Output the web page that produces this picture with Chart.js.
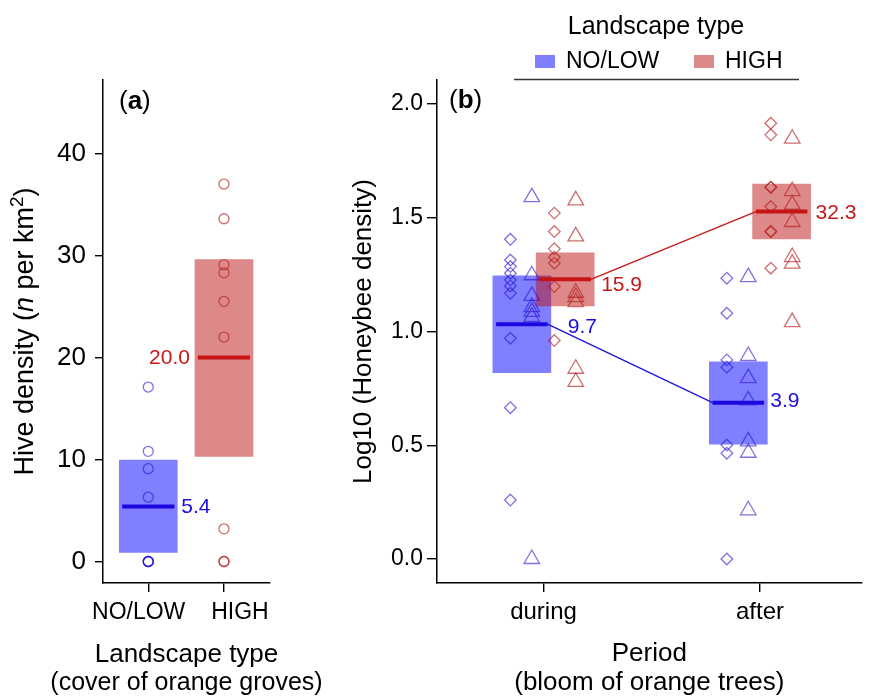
<!DOCTYPE html>
<html><head><meta charset="utf-8">
<script src="https://cdn.jsdelivr.net/npm/chart.js@4.4.1/dist/chart.umd.min.js"></script>
<style>
html,body{margin:0;padding:0;background:#fff;}
#wrap{position:relative;width:872px;height:697px;background:#fff;}
canvas{position:absolute;left:0;top:0;}
</style></head><body>
<div id="wrap"><canvas id="ca" width="872" height="697"></canvas><canvas id="cb" width="872" height="697"></canvas></div>
<script>
// ================= DATA =================
const landscapes = ['NO/LOW', 'HIGH'];
const periods = ['during', 'after'];

// panel (a): hive density (n per km2)
const hiveLow  = [17.1, 10.8, 9.1, 6.3, 0, 0, 0, 0];
const hiveHigh = [37.0, 33.6, 29.1, 28.3, 25.5, 22.0, 3.2, 0, 0];
const hiveMean  = [5.4, 20.0];
const hiveLower = [0.9, 10.3];
const hiveUpper = [9.95, 29.6];
const hiveTicks = [0, 10, 20, 30, 40];

// panel (b): log10 honeybee density, per period (during, after)
const beeLowDiamondDuring  = [1.405, 1.314, 1.285, 1.256, 1.226, 1.200, 1.168, 0.970, 0.665, 0.259];
const beeLowTriangleDuring = [1.590, 1.247, 1.156, 1.107, 1.086, 1.064, 0.0];
const beeHighDiamondDuring = [1.520, 1.439, 1.363, 1.326, 1.300, 1.197, 0.960];
const beeHighTriangleDuring= [1.576, 1.418, 1.170, 1.151, 1.129, 0.836, 0.778];
const beeLowDiamondAfter   = [1.234, 1.080, 0.875, 0.843, 0.501, 0.465, 0.0];
const beeLowTriangleAfter  = [1.239, 0.892, 0.795, 0.697, 0.517, 0.467, 0.214];
const beeHighDiamondAfter  = [1.915, 1.864, 1.634, 1.634, 1.549, 1.439, 1.439, 1.278];
const beeHighTriangleAfter = [1.847, 1.617, 1.557, 1.481, 1.327, 1.298, 1.041];
const beeMeanLow   = [1.032, 0.687];
const beeMeanHigh  = [1.229, 1.527];
const beeLowerLow  = [0.819, 0.505];
const beeUpperLow  = [1.244, 0.867];
const beeLowerHigh = [1.112, 1.407];
const beeUpperHigh = [1.346, 1.648];
const beeMeanLabelLow  = ['9.7', '3.9'];
const beeMeanLabelHigh = ['15.9', '32.3'];
const beeTicks = [0, 0.5, 1.0, 1.5, 2.0];

// ================= STYLE / LAYOUT =================
const FONT = "'Liberation Sans', Arial, Helvetica, sans-serif";
Chart.defaults.font.family = FONT;
Chart.defaults.color = '#000';
const C = {
  blueBox: 'rgba(0,0,255,0.5)', redBox: 'rgba(190,20,20,0.5)',
  bluePt: 'rgba(40,20,210,0.6)', redPt: 'rgba(180,30,30,0.65)',
  blueMean: '#1a08e0', redMean: '#c81414',
  blueLine: 'rgb(30,20,215)', redLine: 'rgb(200,25,25)',
  blueText: '#1a10dd', redText: '#c41a1a'
};
const A = { meanHalf: 0.345 };
const B = { lowBox: -0.1, highBox: 0.1, lowDia: -0.153, lowTri: -0.054, highDia: 0.05, highTri: 0.149, meanHalf: 0.119 };
// tick-label padding (spaces) reproducing the shifted labels of panel (a)
const tickPadA = [s => s + '   ', s => '     ' + s];

function axisCommon(tickLen) {
  return {
    grid: { display: true, offset: false, drawOnChartArea: false, drawTicks: true, tickLength: tickLen, color: '#000', lineWidth: 1.4 },
    border: { display: true, color: '#000', width: 1.5 }
  };
}

// ---------- plugins ----------
const panelLetter = (letter, x, y) => ({
  id: 'letter' + letter,
  afterDraw(chart) {
    const ctx = chart.ctx; ctx.save();
    ctx.textBaseline = 'middle'; ctx.textAlign = 'left'; ctx.fillStyle = '#000';
    let px = x;
    [['(', ''], [letter, 'bold '], [')', '']].forEach(([t, w]) => {
      ctx.font = `${w}26px ${FONT}`; ctx.fillText(t, px, y); px += ctx.measureText(t).width;
    });
    ctx.restore();
  }
});

const titlesA = {
  id: 'titlesA',
  afterDraw(chart) {
    const ctx = chart.ctx, area = chart.chartArea;
    ctx.save(); ctx.fillStyle = '#000'; ctx.textAlign = 'center'; ctx.textBaseline = 'middle';
    const cx = (area.left + area.right) / 2;
    ctx.font = `26px ${FONT}`; ctx.fillText('Landscape type', cx, 655);
    ctx.font = `25px ${FONT}`; ctx.fillText('(cover of orange groves)', cx, 683.5);
    ctx.restore();
    const cy = (area.top + area.bottom) / 2, size = 27;
    const segs = [
      { t: 'Hive density (', f: `${size}px ${FONT}` },
      { t: 'n', f: `italic ${size}px ${FONT}` },
      { t: ' per km', f: `${size}px ${FONT}` },
      { t: '2', f: `${Math.round(size * 0.7)}px ${FONT}`, sup: true },
      { t: ')', f: `${size}px ${FONT}` }
    ];
    ctx.save(); ctx.translate(23.5, cy); ctx.rotate(-Math.PI / 2);
    let total = 0;
    segs.forEach(s => { ctx.font = s.f; s.w = ctx.measureText(s.t).width; total += s.w; });
    let x = -total / 2; ctx.textBaseline = 'alphabetic'; ctx.fillStyle = '#000'; ctx.textAlign = 'left';
    const base = size * 0.35;
    segs.forEach(s => { ctx.font = s.f; ctx.fillText(s.t, x, base - (s.sup ? size * 0.36 : 0)); x += s.w; });
    ctx.restore();
  }
};

const labelsA = {
  id: 'labelsA',
  afterDatasetsDraw(chart) {
    const ctx = chart.ctx, xs = chart.scales.x, ys = chart.scales.y;
    ctx.save(); ctx.font = `21px ${FONT}`; ctx.textBaseline = 'middle';
    const half = 29;
    ctx.fillStyle = C.blueText; ctx.textAlign = 'left';
    ctx.fillText(hiveMean[0].toFixed(1), xs.getPixelForValue(1) + half + 4, ys.getPixelForValue(hiveMean[0]) + 1);
    ctx.fillStyle = C.redText; ctx.textAlign = 'right';
    ctx.fillText(hiveMean[1].toFixed(1), xs.getPixelForValue(2) - half - 5, ys.getPixelForValue(hiveMean[1]) + 1);
    ctx.restore();
  }
};

const labelsB = {
  id: 'labelsB',
  afterDatasetsDraw(chart) {
    const ctx = chart.ctx, xs = chart.scales.x, ys = chart.scales.y;
    ctx.save(); ctx.font = `21px ${FONT}`; ctx.textBaseline = 'middle'; ctx.textAlign = 'left';
    const half = 29;
    const lowDx = [17, 3], lowDy = [3, -1], highDx = [7, 5], highDy = [6, 2];
    periods.forEach((p, i) => {
      ctx.fillStyle = C.blueText;
      ctx.fillText(beeMeanLabelLow[i], xs.getPixelForValue(i + 1 + B.lowBox) + half + lowDx[i], ys.getPixelForValue(beeMeanLow[i]) + lowDy[i]);
      ctx.fillStyle = C.redText;
      ctx.fillText(beeMeanLabelHigh[i], xs.getPixelForValue(i + 1 + B.highBox) + half + highDx[i], ys.getPixelForValue(beeMeanHigh[i]) + highDy[i]);
    });
    ctx.restore();
  }
};

const legendB = {
  id: 'legendB',
  afterDraw(chart) {
    const ctx = chart.ctx; ctx.save();
    ctx.fillStyle = '#000'; ctx.textBaseline = 'middle';
    ctx.font = `25px ${FONT}`; ctx.textAlign = 'center';
    ctx.fillText('Landscape type', 656, 27);
    ctx.font = `23px ${FONT}`; ctx.textAlign = 'left';
    const items = [[landscapes[0], C.blueBox, 535], [landscapes[1], C.redBox, 694]];
    items.forEach(([t, col, x]) => {
      ctx.fillStyle = col; ctx.fillRect(x, 55, 20, 13);
      ctx.fillStyle = '#000'; ctx.fillText(t, x + 31, 62);
    });
    ctx.strokeStyle = '#333'; ctx.lineWidth = 1.3;
    ctx.beginPath(); ctx.moveTo(514, 79.5); ctx.lineTo(799, 79.5); ctx.stroke();
    ctx.restore();
  }
};

// ================= PANEL (a) =================
const ptStyle = (color, style, r) => ({
  type: 'scatter', showLine: false, pointStyle: style, pointRadius: r, pointBorderWidth: 1.3,
  pointBorderColor: color, pointBackgroundColor: 'rgba(0,0,0,0)', borderColor: color, backgroundColor: 'rgba(0,0,0,0)', order: 0
});
const meanLine = (x0, x1, y, color, w, order) => ({
  type: 'line', data: [{ x: x0, y: y }, { x: x1, y: y }], borderColor: color, borderWidth: w,
  pointRadius: 0, borderCapStyle: 'butt', fill: false, order: order
});

new Chart(document.getElementById('ca'), {
  type: 'scatter',
  data: {
    datasets: [
      { type: 'bar', label: 'box', grouped: false, barThickness: 58, borderWidth: 0, order: 4,
        data: landscapes.map((l, i) => ({ x: i + 1, y: [hiveLower[i], hiveUpper[i]] })),
        backgroundColor: [C.blueBox, C.redBox] },
      meanLine(1 - A.meanHalf, 1 + A.meanHalf, hiveMean[0], C.blueMean, 4, 1),
      meanLine(2 - A.meanHalf, 2 + A.meanHalf, hiveMean[1], C.redMean, 4, 1),
      Object.assign(ptStyle(C.bluePt, 'circle', 5), { data: hiveLow.map(v => ({ x: 1, y: v })) }),
      Object.assign(ptStyle(C.redPt, 'circle', 5), { data: hiveHigh.map(v => ({ x: 2, y: v })) })
    ]
  },
  options: {
    responsive: false, animation: false, devicePixelRatio: 1, events: [],
    layout: { padding: { top: 80, right: 872 - 270, left: 0, bottom: 0 } },
    plugins: { legend: { display: false }, tooltip: { enabled: false } },
    scales: {
      x: Object.assign(axisCommon(9), {
        type: 'linear', min: 0.402, max: 2.608, offset: false,
        afterBuildTicks: s => { s.ticks = landscapes.map((l, i) => ({ value: i + 1 })); },
        afterFit: s => { s.height = 114; },
        ticks: { font: { size: 23 }, padding: 7, maxRotation: 0, autoSkip: false,
                 callback: v => { const i = Math.round(v) - 1; return tickPadA[i](landscapes[i]); } }
      }),
      y: Object.assign(axisCommon(8), {
        type: 'linear', min: -2.11, max: 47.2,
        afterBuildTicks: s => { s.ticks = hiveTicks.map(v => ({ value: v })); },
        afterFit: s => { s.width = 103; },
        ticks: { font: { size: 26 }, padding: 9, callback: v => String(v) }
      })
    }
  },
  plugins: [labelsA, titlesA, panelLetter('a', 119, 102)]
});

// ================= PANEL (b) =================
const twoPeriods = (arrD, arrA, off) => [...arrD.map(v => ({ x: 1 + off, y: v })), ...arrA.map(v => ({ x: 2 + off, y: v }))];

new Chart(document.getElementById('cb'), {
  type: 'scatter',
  data: {
    datasets: [
      { type: 'bar', label: 'NO/LOW', grouped: false, barThickness: 58, borderWidth: 0, order: 5, backgroundColor: C.blueBox,
        data: periods.map((p, i) => ({ x: i + 1 + B.lowBox, y: [beeLowerLow[i], beeUpperLow[i]] })) },
      { type: 'bar', label: 'HIGH', grouped: false, barThickness: 58, borderWidth: 0, order: 4, backgroundColor: C.redBox,
        data: periods.map((p, i) => ({ x: i + 1 + B.highBox, y: [beeLowerHigh[i], beeUpperHigh[i]] })) },
      { type: 'line', borderColor: C.blueLine, borderWidth: 1.3, pointRadius: 0, fill: false, order: 2,
        data: [{ x: 1 + B.lowBox + B.meanHalf, y: beeMeanLow[0] }, { x: 2 + B.lowBox - B.meanHalf, y: beeMeanLow[1] }] },
      { type: 'line', borderColor: C.redLine, borderWidth: 1.3, pointRadius: 0, fill: false, order: 2,
        data: [{ x: 1 + B.highBox + B.meanHalf, y: beeMeanHigh[0] }, { x: 2 + B.highBox - B.meanHalf, y: beeMeanHigh[1] }] },
      ...periods.map((p, i) => meanLine(i + 1 + B.lowBox - B.meanHalf, i + 1 + B.lowBox + B.meanHalf, beeMeanLow[i], C.blueMean, 4, 1)),
      ...periods.map((p, i) => meanLine(i + 1 + B.highBox - B.meanHalf, i + 1 + B.highBox + B.meanHalf, beeMeanHigh[i], C.redMean, 4, 1)),
      Object.assign(ptStyle(C.bluePt, 'rectRot', 5.8), { data: twoPeriods(beeLowDiamondDuring, beeLowDiamondAfter, B.lowDia) }),
      Object.assign(ptStyle(C.bluePt, 'triangle', 9), { data: twoPeriods(beeLowTriangleDuring, beeLowTriangleAfter, B.lowTri) }),
      Object.assign(ptStyle(C.redPt, 'rectRot', 5.8), { data: twoPeriods(beeHighDiamondDuring, beeHighDiamondAfter, B.highDia) }),
      Object.assign(ptStyle(C.redPt, 'triangle', 9), { data: twoPeriods(beeHighTriangleDuring, beeHighTriangleAfter, B.highTri) })
    ]
  },
  options: {
    responsive: false, animation: false, devicePixelRatio: 1, events: [],
    layout: { padding: { top: 80, right: 0, left: 0, bottom: 0 } },
    plugins: { legend: { display: false }, tooltip: { enabled: false } },
    scales: {
      x: Object.assign(axisCommon(9), {
        type: 'linear', min: 0.508, max: 2.47, offset: false,
        afterBuildTicks: s => { s.ticks = periods.map((p, i) => ({ value: i + 1 })); },
        afterFit: s => { s.height = 114; },
        ticks: { font: { size: 24 }, padding: 6, maxRotation: 0, autoSkip: false, callback: v => periods[Math.round(v) - 1] },
        title: { display: true, text: ['Period', '(bloom of orange trees)'], font: { size: 26, lineHeight: 29 / 26 }, padding: { top: 0, bottom: 0 } }
      }),
      y: Object.assign(axisCommon(10), {
        type: 'linear', min: -0.1055, max: 2.105,
        afterBuildTicks: s => { s.ticks = beeTicks.map(v => ({ value: v })); },
        afterFit: s => { s.width = 437; },
        ticks: { font: { size: 23 }, padding: 4, callback: v => v.toFixed(1) },
        title: { display: true, text: 'Log10 (Honeybee density)', font: { size: 26, lineHeight: 1.2 }, padding: { top: 348, bottom: 0 } }
      })
    }
  },
  plugins: [labelsB, legendB, panelLetter('b', 449, 101)]
});
</script>
</body></html>
